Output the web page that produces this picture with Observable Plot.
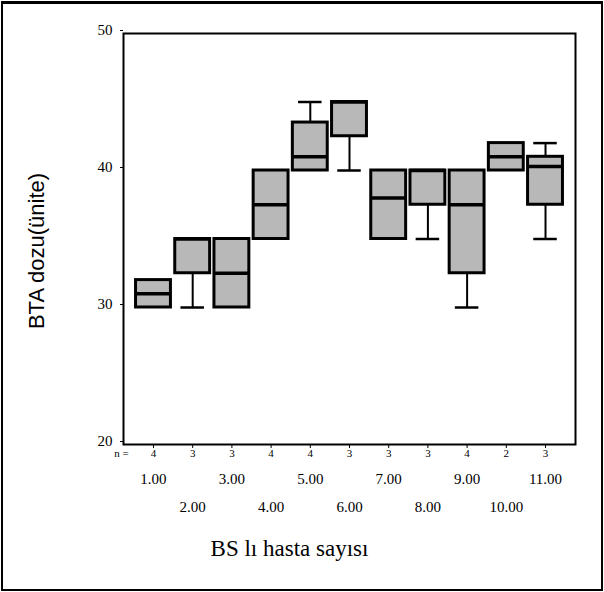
<!DOCTYPE html>
<html><head><meta charset="utf-8">
<script src="https://cdn.jsdelivr.net/npm/d3@7"></script>
<script src="https://cdn.jsdelivr.net/npm/@observablehq/plot@0.6"></script>
<style>
body{margin:0;background:#fff;}
#wrap{position:relative;width:604px;height:592px;}
#border{position:absolute;left:1px;top:1px;width:598px;height:585px;border:2px solid #000;border-top-width:3px;pointer-events:none;}
</style></head><body><div id="wrap"><div id="border"></div></div>
<script>
const categories = [1, 2, 3, 4, 5, 6, 7, 8, 9, 10, 11];
const xLabels = ["1.00", "2.00", "3.00", "4.00", "5.00", "6.00", "7.00", "8.00", "9.00", "10.00", "11.00"];
const nValues = ["4", "3", "3", "4", "4", "3", "3", "3", "4", "2", "3"];
const mins    = [30, 30,   30,   35,   40,   40,   35, 35,   30,   40, 35];
const q1s     = [30, 32.5, 30,   35,   40,   42.5, 35, 37.5, 32.5, 40, 37.5];
const medians = [31, 35,   32.5, 37.5, 41,   45,   38, 40,   37.5, 41, 40.3];
const q3s     = [32, 35,   35,   40,   43.5, 45,   40, 40,   40,   42, 41];
const maxs    = [32, 35,   35,   40,   45,   45,   40, 40,   40,   42, 42];
const yTicks = [20, 30, 40, 50];
const yTitle = "BTA dozu(ünite)";
const xTitle = "BS lı hasta sayısı";

const rows = categories.map((c, i) => ({
  cat: c, label: xLabels[i], n: nValues[i], row: i % 2,
  min: mins[i], q1: q1s[i], med: medians[i], q3: q3s[i], max: maxs[i]
}));
const halfBox = 0.445, halfCap = 0.3;
const lowW = rows.filter(d => d.min < d.q1);
const highW = rows.filter(d => d.max > d.q3);

const chart = Plot.plot({
  width: 604, height: 592,
  marginLeft: 123, marginRight: 29, marginTop: 33, marginBottom: 148,
  style: {fontFamily: "'Liberation Serif', serif", background: "transparent", color: "#000"},
  x: {domain: [0.235, 11.765]},
  y: {domain: [20, 50]},
  marks: [
    Plot.ruleX(lowW, {x: "cat", y1: "min", y2: "q1", stroke: "#000", strokeWidth: 2}),
    Plot.ruleX(highW, {x: "cat", y1: "q3", y2: "max", stroke: "#000", strokeWidth: 2}),
    Plot.ruleY(lowW, {y: "min", x1: d => d.cat - halfCap, x2: d => d.cat + halfCap, stroke: "#000", strokeWidth: 2.5}),
    Plot.ruleY(highW, {y: "max", x1: d => d.cat - halfCap, x2: d => d.cat + halfCap, stroke: "#000", strokeWidth: 2.5}),
    Plot.rectY(rows, {x1: d => d.cat - halfBox, x2: d => d.cat + halfBox, y1: "q1", y2: "q3",
      fill: "#b8b8b8", stroke: "#000", strokeWidth: 3}),
    Plot.ruleY(rows, {y: "med", x1: d => d.cat - halfBox, x2: d => d.cat + halfBox, stroke: "#000", strokeWidth: 3.5}),
    Plot.frame({stroke: "#000", strokeWidth: 2}),
    Plot.axisY({ticks: yTicks, tickSize: 3, tickPadding: 8, label: null, fontSize: 15, dy: -3}),
    Plot.axisX({ticks: categories, tickSize: 4, tickFormat: () => "", label: null}),
    Plot.text(rows, {x: "cat", text: "n", frameAnchor: "bottom", dy: 12, fontSize: 11}),
    Plot.text(["n ="], {frameAnchor: "bottom-left", dx: -2, dy: 12, textAnchor: "middle", fontSize: 11}),
    Plot.text(rows.filter(d => d.row === 0), {x: "cat", text: "label", frameAnchor: "bottom", dy: 39, fontSize: 15}),
    Plot.text(rows.filter(d => d.row === 1), {x: "cat", text: "label", frameAnchor: "bottom", dy: 67, fontSize: 15}),
    Plot.text([xTitle], {frameAnchor: "bottom", dx: -60, dy: 111, fontSize: 23}),
    Plot.text([yTitle], {frameAnchor: "left", dx: -87, dy: 12, rotate: -90, textAnchor: "middle", fontSize: 22,
      fontFamily: "'Liberation Sans', Arial, sans-serif"})
  ]
});
document.getElementById("wrap").prepend(chart);
</script></body></html>
